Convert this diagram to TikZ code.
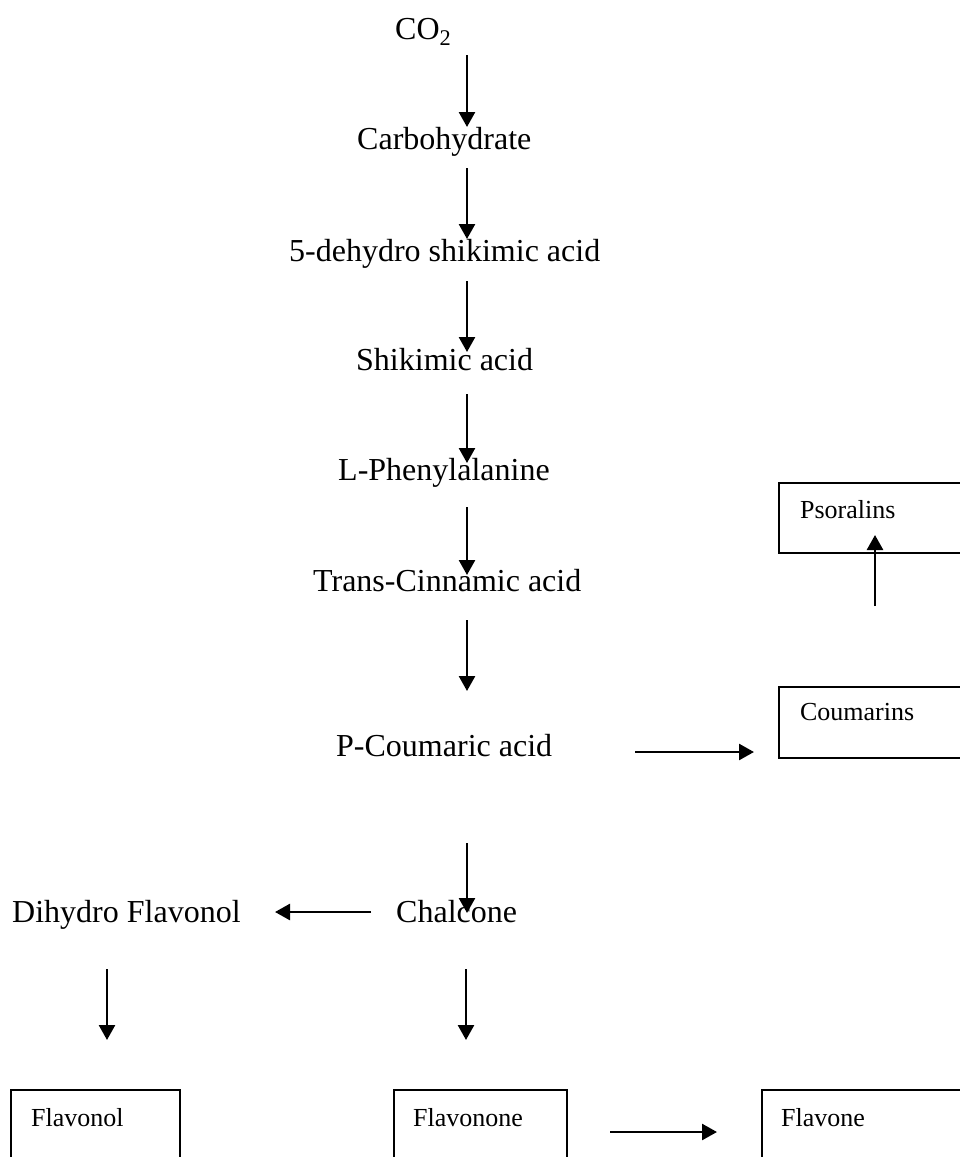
\documentclass[tikz,border=0pt]{standalone}
\usepackage{fontspec}
\setmainfont{Liberation Serif}
\usetikzlibrary{arrows.meta}
\tikzset{
  lbl/.style={anchor=base west, inner sep=0pt, font=\fontsize{32}{38}\selectfont},
  boxlbl/.style={draw, line width=2.2pt, anchor=north west, inner ysep=0pt, align=left,
                 font=\fontsize{26}{31}\selectfont},
  arr/.style={line width=2.6pt, -{Triangle[length=15pt,width=16pt]}},
}
\begin{document}
\begin{tikzpicture}[x=1pt,y=-1pt]
\clip (0,0) rectangle (960,1157);
\fill[white] (0,0) rectangle (960,1157);
% main chain labels
\node[lbl] (co2)  at (395,39)  {CO\textsubscript{2}};
\node[lbl] (carb) at (357,149) {Carbohydrate};
\node[lbl] (dhs)  at (289,261) {5-dehydro shikimic acid};
\node[lbl] (shik) at (356,370) {Shikimic acid};
\node[lbl] (phe)  at (338,480) {L-Phenylalanine};
\node[lbl] (cin)  at (313,591) {Trans-Cinnamic acid};
\node[lbl] (pcou) at (336,756) {P-Coumaric acid};
\node[lbl] (chal) at (396,922) {Chalcone};
\node[lbl] (dhf)  at (12,922)  {Dihydro Flavonol};
% boxes
\node[boxlbl, inner xsep=21pt, text width=200pt, text height=35pt, text depth=35pt] (pso) at (778,482) {Psoralins};
\node[boxlbl, inner xsep=21pt, text width=200pt, text height=33pt, text depth=38pt] (cou) at (778,686) {Coumarins};
\node[boxlbl, inner xsep=20pt, text width=129pt, text height=36pt, text depth=60pt] (flavonol) at (10,1089) {Flavonol};
\node[boxlbl, inner xsep=19pt, text width=135pt, text height=36pt, text depth=60pt] (flavonone) at (393,1089) {Flavonone};
\node[boxlbl, inner xsep=19pt, text width=200pt, text height=36pt, text depth=60pt] (flavone) at (761,1089) {Flavone};
% arrow end points
\coordinate (a1s) at (467,55);   \coordinate (a1e) at (467,127);
\coordinate (a2s) at (467,168);  \coordinate (a2e) at (467,239);
\coordinate (a3s) at (467,281);  \coordinate (a3e) at (467,352);
\coordinate (a4s) at (467,394);  \coordinate (a4e) at (467,463);
\coordinate (a5s) at (467,507);  \coordinate (a5e) at (467,575);
\coordinate (a6s) at (467,620);  \coordinate (a6e) at (467,691);
\coordinate (a7s) at (635,752);  \coordinate (a7e) at (754,752);
\coordinate (a8s) at (875,606);  \coordinate (a8e) at (875,535);
\coordinate (a9s) at (467,843);  \coordinate (a9e) at (467,913);
\coordinate (a10s) at (371,912); \coordinate (a10e) at (275,912);
\coordinate (a11s) at (107,969); \coordinate (a11e) at (107,1040);
\coordinate (a12s) at (466,969); \coordinate (a12e) at (466,1040);
\coordinate (a13s) at (610,1132);\coordinate (a13e) at (717,1132);
% connectors
\draw[arr] (a1s) -- (a1e);
\draw[arr] (a2s) -- (a2e);
\draw[arr] (a3s) -- (a3e);
\draw[arr] (a4s) -- (a4e);
\draw[arr] (a5s) -- (a5e);
\draw[arr] (a6s) -- (a6e);
\draw[arr] (a7s) -- (a7e);
\draw[arr] (a8s) -- (a8e);
\draw[arr] (a9s) -- (a9e);
\draw[arr] (a10s) -- (a10e);
\draw[arr] (a11s) -- (a11e);
\draw[arr] (a12s) -- (a12e);
\draw[arr] (a13s) -- (a13e);
\end{tikzpicture}
\end{document}
